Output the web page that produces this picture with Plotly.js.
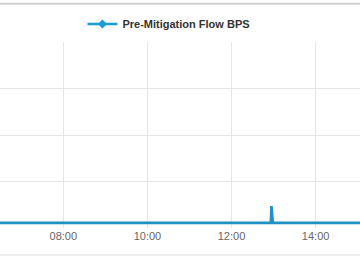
<!DOCTYPE html>
<html><head><meta charset="utf-8">
<script src="https://cdn.plot.ly/plotly-3.0.1.min.js"></script>
<style>html,body{margin:0;padding:0;background:#fff;}#chart{width:360px;height:260px;}</style>
</head><body><div id="chart"></div>
<script>
const day = '2024-05-14 ';
const times = ['06:29','07:00','07:30','08:00','08:30','09:00','09:30','10:00','10:30','11:00','11:30','12:00','12:30','12:55','12:56','12:57','12:58','12:59','13:30','14:00','14:30','15:04'];
const flowGbps = [0.11,0.11,0.105,0.11,0.11,0.105,0.11,0.11,0.11,0.105,0.11,0.11,0.11,0.11,0.11,0.47,0.2,0.11,0.11,0.105,0.11,0.11];
const seriesName = 'Pre-Mitigation Flow BPS';
const xRange = ['06:29:40','15:03:20'];
const yGrid = [1,2,3,4];

const lineColor = '#2190c4';
const data = [
  {x: times.map(t => day + t), y: flowGbps, type: 'scatter', mode: 'lines',
   line: {color: lineColor, width: 2.6}, showlegend: false, name: seriesName, hoverinfo: 'skip'},
  {x: [null], y: [null], type: 'scatter', mode: 'lines+markers', name: seriesName,
   line: {color: '#1e9bd7', width: 2.5}, marker: {color: '#1e9bd7', size: 7, symbol: 'diamond'}}
];
const layout = {
  width: 360, height: 260,
  margin: {l: 0, r: 0, t: 42, b: 32},
  paper_bgcolor: '#fff', plot_bgcolor: '#fff',
  xaxis: {type: 'date', range: xRange.map(t => day + t), dtick: 7200000, tick0: day + '00:00',
    tickformat: '%H:%M', showgrid: true, gridcolor: '#e6e6e6', gridwidth: 1, zeroline: false,
    showline: false, ticks: '', fixedrange: true,
    tickfont: {family: 'Liberation Sans, Arial, sans-serif', size: 11, color: '#666'}},
  yaxis: {range: [0, 4], tickvals: yGrid, showticklabels: false, showgrid: true,
    gridcolor: '#e6e6e6', gridwidth: 1, zeroline: false, showline: false, ticks: ''},
  showlegend: true,
  legend: {orientation: 'h', x: 0.229, xanchor: 'left', y: 1.097, yanchor: 'middle',
    bgcolor: 'rgba(0,0,0,0)',
    font: {family: 'Liberation Sans, Arial, sans-serif', size: 11, color: '#333', weight: 'bold'}},
  shapes: [
    {type: 'line', xref: 'paper', yref: 'paper', x0: 0, x1: 1, y0: 1.205, y1: 1.205,
     line: {color: '#cfcfcf', width: 2}},
    {type: 'line', xref: 'paper', yref: 'paper', x0: 0, x1: 1, y0: -0.145, y1: -0.145,
     line: {color: '#dddddd', width: 1}}
  ]
};
Plotly.newPlot('chart', data, layout, {staticPlot: true, displayModeBar: false});
</script></body></html>
